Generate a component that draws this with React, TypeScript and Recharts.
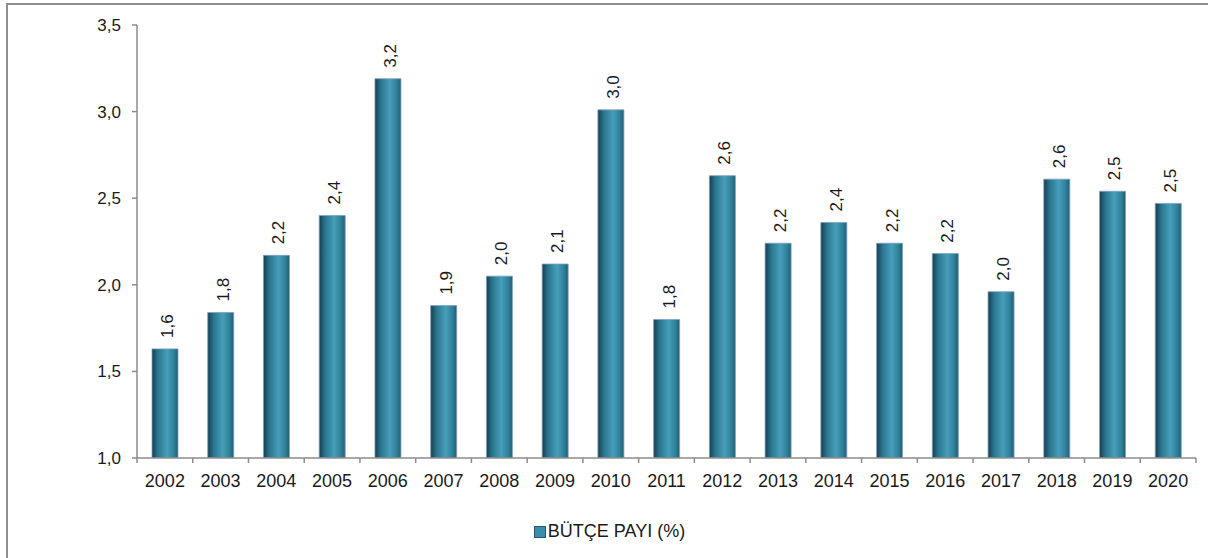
import { Bar, BarChart, LabelList, Legend, XAxis, YAxis } from "recharts";

const years = ["2002", "2003", "2004", "2005", "2006", "2007", "2008", "2009", "2010", "2011", "2012", "2013", "2014", "2015", "2016", "2017", "2018", "2019", "2020"];
const butcePayi = [1.63, 1.84, 2.17, 2.4, 3.19, 1.88, 2.05, 2.12, 3.01, 1.8, 2.63, 2.24, 2.36, 2.24, 2.18, 1.96, 2.61, 2.54, 2.47];
const yTicks = [1.0, 1.5, 2.0, 2.5, 3.0, 3.5];
const seriesName = "BÜTÇE PAYI (%)";

const data = years.map((year, i) => ({ year, value: butcePayi[i] }));

const FONT = "'Liberation Sans', Arial, sans-serif";
const W = 1208;
const H = 558;
const M = { top: 25, right: 12, left: 0, bottom: 0 };
const Y_AXIS_W = 137;
const BAND = (W - M.left - M.right - Y_AXIS_W) / years.length;

const fmt = (v: number) => v.toFixed(1).replace(".", ",");

const YearTick = (props: any) => {
	const { x, y, payload, index } = props;
	const axisY = y - 16;
	const half = BAND / 2;
	return (
		<g>
			<line x1={x - half} y1={axisY} x2={x - half} y2={axisY + 5} stroke="#8c8c8c" strokeWidth={1.5} />
			{index === years.length - 1 &&
				<line x1={x + half} y1={axisY} x2={x + half} y2={axisY + 5} stroke="#8c8c8c" strokeWidth={1.5} />
			}
			<text x={x} y={y} dy="0.71em" textAnchor="middle" fontSize={18} fill="#1a1a1a" fontFamily={FONT}>
				{payload.value}
			</text>
		</g>
	);
};

const BarLabel = (props: any) => {
	const { x, y, width, value } = props;
	const cx = x + width / 2 + 2;
	const ty = y - 11;
	return (
		<text
			x={cx}
			y={ty}
			dy="0.35em"
			transform={`rotate(-90, ${cx}, ${ty})`}
			textAnchor="start"
			fontSize={17}
			fill="#1a1a1a"
			fontFamily={FONT}
		>
			{fmt(value)}
		</text>
	);
};

const LegendBox = () => (
	<div style={{ display: "flex", justifyContent: "center", alignItems: "center", paddingTop: 23, marginLeft: 11, fontFamily: FONT }}>
		<span style={{ display: "inline-block", width: 10, height: 10, background: "#3a8eab", border: "1px solid #24566f", marginRight: 2 }} />
		<span style={{ fontSize: 18, color: "#1a1a1a" }}>{seriesName}</span>
	</div>
);

export default function App() {
	return (
		<div style={{ position: "absolute", left: 0, top: 0, width: W, height: H, background: "#fff", overflow: "hidden" }}>
			<div style={{ position: "absolute", left: 6, top: 3, width: W, height: H, borderTop: "2px solid #8f8f8f", borderLeft: "2px solid #8f8f8f" }} />
			<BarChart width={W} height={H} data={data} margin={M} style={{ position: "absolute", left: 0, top: 0 }}>
				<defs>
					<linearGradient id="barGrad" x1="0" y1="0" x2="1" y2="0">
						<stop offset="0%" stopColor="#163d50" />
						<stop offset="22%" stopColor="#2a748d" />
						<stop offset="58%" stopColor="#469fba" />
						<stop offset="85%" stopColor="#2f7e97" />
						<stop offset="100%" stopColor="#215d74" />
					</linearGradient>
				</defs>
				<XAxis
					dataKey="year"
					height={40}
					interval={0}
					tickLine={false}
					tickSize={5}
					tickMargin={11}
					tick={<YearTick />}
					axisLine={{ stroke: "#8c8c8c", strokeWidth: 1.5 }}
				/>
				<YAxis
					width={Y_AXIS_W}
					domain={[1, 3.5]}
					ticks={yTicks}
					allowDataOverflow
					tickFormatter={fmt}
					tickSize={5}
					tickMargin={11}
					tick={{ fontSize: 17, fill: "#1a1a1a", fontFamily: FONT }}
					tickLine={{ stroke: "#8c8c8c", strokeWidth: 1.5 }}
					axisLine={{ stroke: "#8c8c8c", strokeWidth: 1.5 }}
				/>
				<Legend
					verticalAlign="bottom"
					content={<LegendBox />}
					wrapperStyle={{ left: 0, width: W, height: 60, bottom: 0 }}
				/>
				<Bar dataKey="value" name={seriesName} barSize={26} fill="url(#barGrad)" stroke="#7f9fc0" strokeWidth={0.8} isAnimationActive={false}>
					<LabelList dataKey="value" content={<BarLabel />} />
				</Bar>
			</BarChart>
		</div>
	);
}
